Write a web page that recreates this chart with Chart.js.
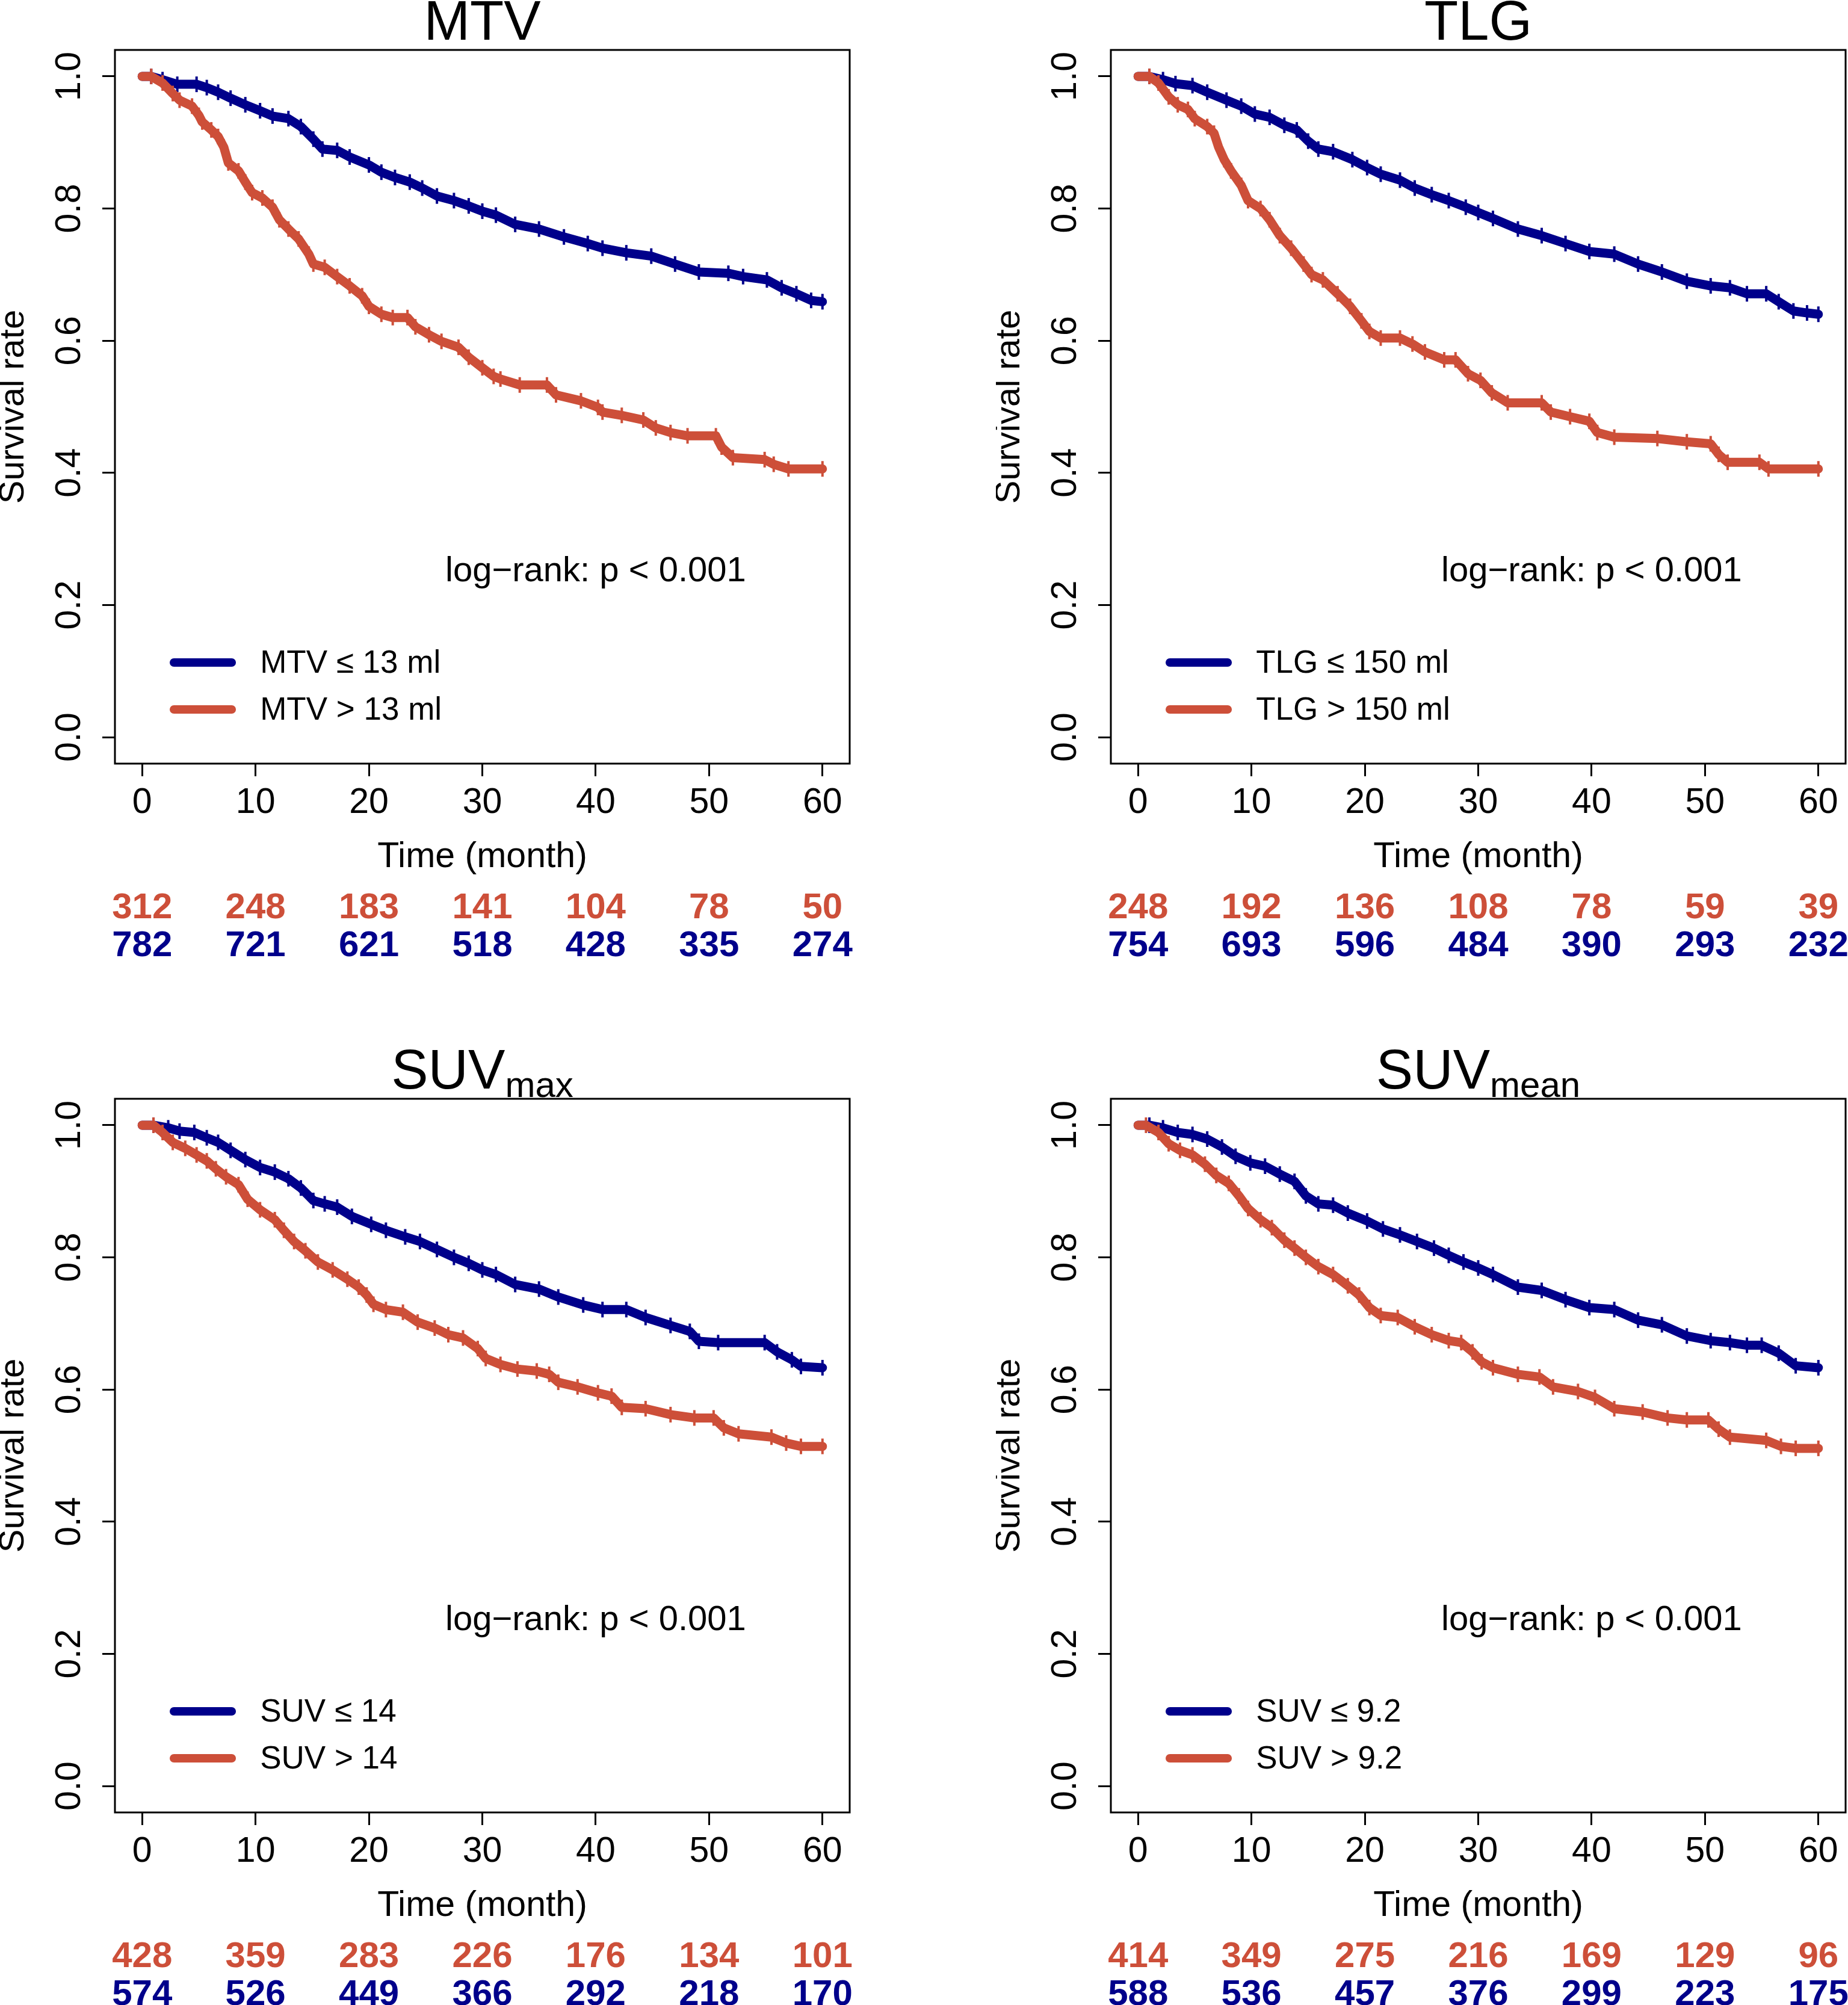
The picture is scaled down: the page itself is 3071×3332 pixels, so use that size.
<!DOCTYPE html>
<html>
<head>
<meta charset="utf-8">
<script src="https://cdn.jsdelivr.net/npm/chart.js@4.4.1/dist/chart.umd.min.js"></script>
<style>
  html, body { margin: 0; padding: 0; background: #fff; }
  body { width: 3071px; height: 3332px; position: relative; overflow: hidden; }
  canvas { position: absolute; }
</style>
</head>
<body>
<canvas id="c1" width="1429" height="1600" style="left:0px;top:0px"></canvas>
<canvas id="c2" width="1429" height="1600" style="left:1655px;top:0px"></canvas>
<canvas id="c3" width="1429" height="1600" style="left:0px;top:1743px"></canvas>
<canvas id="c4" width="1429" height="1600" style="left:1655px;top:1743px"></canvas>
<script>
// axes
const xTicks = [0, 10, 20, 30, 40, 50, 60];
const yTicks = [0, 0.2, 0.4, 0.6, 0.8, 1.0];

// MTV
const mtvLowT = [0, 0.8, 1.8, 3.1, 4.8, 5.7, 6.7, 7.8, 9.1, 10.4, 11.5, 12.9, 14.0, 15.1, 15.9, 17.2, 18.3, 20.0, 21.1, 22.3, 23.6, 24.7, 26.0, 27.5, 28.8, 30.0, 31.2, 32.9, 35.0, 37.2, 39.3, 40.6, 42.7, 44.9, 47.0, 49.1, 51.7, 53.0, 55.1, 56.4, 57.7, 59.0, 60.0];
const mtvLowS = [1.0, 1.0, 0.995, 0.988, 0.988, 0.983, 0.976, 0.967, 0.957, 0.948, 0.940, 0.936, 0.924, 0.905, 0.890, 0.888, 0.878, 0.866, 0.855, 0.847, 0.840, 0.831, 0.819, 0.812, 0.804, 0.796, 0.790, 0.776, 0.769, 0.757, 0.747, 0.740, 0.733, 0.728, 0.716, 0.704, 0.702, 0.697, 0.692, 0.680, 0.671, 0.661, 0.659];
const mtvHighT = [0, 0.8, 1.8, 2.7, 3.3, 4.4, 5.0, 5.3, 6.1, 6.7, 7.2, 7.6, 8.5, 9.1, 9.7, 10.6, 11.5, 12.1, 12.9, 13.8, 14.7, 15.1, 16.1, 17.2, 18.3, 19.4, 20.0, 21.1, 22.1, 23.4, 24.1, 25.3, 26.4, 27.9, 28.8, 30.0, 31.0, 31.6, 33.3, 35.7, 36.5, 38.7, 40.2, 40.6, 42.3, 44.2, 45.3, 46.6, 48.1, 50.6, 51.1, 52.1, 54.9, 55.7, 57.0, 60.0];
const mtvHighS = [1.0, 1.0, 0.990, 0.974, 0.964, 0.955, 0.941, 0.931, 0.919, 0.909, 0.893, 0.869, 0.857, 0.840, 0.824, 0.816, 0.802, 0.783, 0.769, 0.754, 0.731, 0.716, 0.711, 0.697, 0.683, 0.668, 0.652, 0.640, 0.635, 0.635, 0.621, 0.609, 0.599, 0.590, 0.575, 0.559, 0.546, 0.542, 0.533, 0.533, 0.518, 0.509, 0.499, 0.492, 0.487, 0.480, 0.468, 0.461, 0.456, 0.456, 0.439, 0.423, 0.420, 0.413, 0.406, 0.406];
const mtvRiskHigh = [312, 248, 183, 141, 104, 78, 50];
const mtvRiskLow = [782, 721, 621, 518, 428, 335, 274];

// TLG
const tlgLowT = [0, 1.0, 2.2, 3.3, 4.8, 6.1, 7.8, 9.1, 10.3, 11.6, 12.9, 14.0, 15.0, 15.9, 17.2, 18.9, 20.2, 21.4, 23.1, 24.4, 25.9, 27.4, 28.9, 30.0, 31.3, 33.5, 35.6, 37.7, 39.8, 42.0, 44.1, 46.2, 48.4, 50.5, 52.2, 53.7, 55.4, 56.5, 57.8, 59.0, 60.0];
const tlgLowS = [1.0, 1.0, 0.995, 0.989, 0.986, 0.976, 0.964, 0.955, 0.943, 0.938, 0.926, 0.919, 0.902, 0.890, 0.886, 0.874, 0.862, 0.852, 0.843, 0.831, 0.821, 0.812, 0.802, 0.794, 0.785, 0.769, 0.759, 0.747, 0.735, 0.731, 0.716, 0.704, 0.690, 0.683, 0.680, 0.671, 0.671, 0.659, 0.645, 0.642, 0.640];
const tlgHighT = [0, 1.0, 1.8, 2.7, 3.5, 4.4, 5.0, 6.1, 6.7, 7.1, 7.6, 8.2, 9.1, 9.7, 10.8, 11.6, 12.5, 13.5, 14.6, 15.3, 16.3, 17.6, 18.7, 19.7, 20.4, 21.4, 23.1, 24.2, 25.3, 27.0, 28.0, 29.1, 30.2, 31.2, 32.6, 35.6, 36.4, 38.1, 39.8, 40.5, 42.0, 45.8, 48.4, 50.5, 51.2, 52.0, 54.8, 55.6, 60.0];
const tlgHighS = [1.0, 1.0, 0.990, 0.969, 0.957, 0.950, 0.936, 0.924, 0.914, 0.893, 0.874, 0.857, 0.835, 0.812, 0.800, 0.783, 0.759, 0.740, 0.716, 0.700, 0.692, 0.671, 0.652, 0.630, 0.614, 0.604, 0.604, 0.595, 0.583, 0.571, 0.571, 0.550, 0.540, 0.521, 0.506, 0.506, 0.492, 0.485, 0.478, 0.461, 0.454, 0.452, 0.447, 0.444, 0.428, 0.416, 0.416, 0.406, 0.406];
const tlgRiskHigh = [248, 192, 136, 108, 78, 59, 39];
const tlgRiskLow = [754, 693, 596, 484, 390, 293, 232];

// SUVmax
const maxLowT = [0, 1.0, 2.3, 3.3, 4.6, 5.7, 6.7, 7.8, 9.1, 10.4, 11.7, 12.9, 14.0, 15.1, 16.1, 17.2, 18.5, 20.2, 21.5, 23.2, 24.5, 26.0, 27.5, 28.8, 30.0, 31.2, 32.9, 35.0, 36.7, 38.9, 40.6, 42.7, 44.4, 46.6, 48.3, 49.1, 50.8, 54.9, 56.0, 57.3, 58.1, 60.0];
const maxLowS = [1.0, 1.0, 0.996, 0.991, 0.989, 0.981, 0.974, 0.962, 0.948, 0.936, 0.929, 0.919, 0.905, 0.886, 0.881, 0.876, 0.862, 0.850, 0.841, 0.831, 0.824, 0.812, 0.800, 0.791, 0.781, 0.774, 0.759, 0.752, 0.740, 0.728, 0.721, 0.721, 0.709, 0.697, 0.688, 0.673, 0.671, 0.671, 0.657, 0.645, 0.635, 0.633];
const maxHighT = [0, 1.0, 1.8, 2.7, 3.8, 4.8, 5.7, 6.5, 7.4, 8.5, 9.3, 10.4, 11.7, 12.5, 13.4, 14.4, 15.5, 16.8, 18.1, 19.1, 19.8, 20.4, 21.5, 23.0, 24.3, 25.8, 27.0, 28.3, 29.6, 30.3, 31.6, 33.1, 34.8, 35.9, 36.7, 38.4, 40.2, 41.4, 42.3, 44.4, 46.6, 48.7, 50.4, 51.3, 52.6, 55.5, 56.8, 58.1, 60.0];
const maxHighS = [1.0, 1.0, 0.989, 0.974, 0.965, 0.955, 0.946, 0.934, 0.922, 0.910, 0.888, 0.872, 0.857, 0.841, 0.824, 0.810, 0.793, 0.781, 0.767, 0.755, 0.743, 0.729, 0.721, 0.717, 0.702, 0.693, 0.683, 0.678, 0.662, 0.647, 0.638, 0.631, 0.628, 0.623, 0.611, 0.604, 0.595, 0.590, 0.573, 0.571, 0.562, 0.557, 0.557, 0.542, 0.533, 0.528, 0.519, 0.514, 0.514];
const maxRiskHigh = [428, 359, 283, 226, 176, 134, 101];
const maxRiskLow = [574, 526, 449, 366, 292, 218, 170];

// SUVmean
const meanLowT = [0, 1.0, 2.2, 3.5, 4.8, 6.1, 7.4, 8.6, 9.9, 11.2, 12.5, 13.8, 14.8, 15.9, 17.2, 18.5, 20.2, 21.6, 23.1, 24.6, 26.1, 27.4, 28.7, 30.0, 31.3, 33.5, 35.6, 37.7, 39.8, 42.0, 44.1, 46.2, 48.4, 50.5, 52.2, 53.7, 55.0, 56.5, 58.0, 60.0];
const meanLowS = [1.0, 1.0, 0.996, 0.989, 0.986, 0.979, 0.967, 0.953, 0.943, 0.938, 0.926, 0.915, 0.893, 0.881, 0.879, 0.867, 0.855, 0.843, 0.834, 0.824, 0.814, 0.803, 0.793, 0.784, 0.774, 0.755, 0.750, 0.736, 0.724, 0.721, 0.705, 0.698, 0.681, 0.674, 0.671, 0.667, 0.667, 0.655, 0.636, 0.633];
const meanHighT = [0, 0.7, 1.8, 2.7, 3.7, 4.8, 5.9, 6.9, 8.0, 8.9, 9.7, 10.8, 11.8, 12.9, 13.8, 14.8, 15.9, 17.2, 18.5, 19.5, 20.4, 21.4, 22.9, 24.4, 25.9, 27.4, 28.5, 29.5, 30.3, 31.3, 33.5, 35.4, 36.6, 38.8, 40.3, 42.0, 44.5, 46.7, 48.4, 50.3, 51.2, 52.2, 55.4, 56.7, 58.0, 60.0];
const meanHighS = [1.0, 1.0, 0.989, 0.972, 0.962, 0.955, 0.941, 0.924, 0.912, 0.893, 0.874, 0.857, 0.845, 0.826, 0.814, 0.800, 0.786, 0.774, 0.757, 0.743, 0.724, 0.712, 0.709, 0.695, 0.683, 0.674, 0.671, 0.657, 0.642, 0.633, 0.623, 0.619, 0.604, 0.597, 0.588, 0.571, 0.566, 0.557, 0.554, 0.554, 0.540, 0.528, 0.523, 0.514, 0.511, 0.511];
const meanRiskHigh = [414, 349, 275, 216, 169, 129, 96];
const meanRiskLow = [588, 536, 457, 376, 299, 223, 175];

const FONT = "'Liberation Sans', Arial, Helvetica, sans-serif";
const BLUE = '#00008B';
const RED = '#CD4F39';
const pText = 'log\u2212rank: p < 0.001';

Chart.defaults.font.family = FONT;
Chart.defaults.color = '#000';

const panels = [
  { id: 'c1', title: 'MTV', sub: '', lowT: mtvLowT, lowS: mtvLowS, highT: mtvHighT, highS: mtvHighS,
    labels: ['MTV \u2264 13 ml', 'MTV > 13 ml'], riskHigh: mtvRiskHigh, riskLow: mtvRiskLow },
  { id: 'c2', title: 'TLG', sub: '', lowT: tlgLowT, lowS: tlgLowS, highT: tlgHighT, highS: tlgHighS,
    labels: ['TLG \u2264 150 ml', 'TLG > 150 ml'], riskHigh: tlgRiskHigh, riskLow: tlgRiskLow },
  { id: 'c3', title: 'SUV', sub: 'max', lowT: maxLowT, lowS: maxLowS, highT: maxHighT, highS: maxHighS,
    labels: ['SUV \u2264 14', 'SUV > 14'], riskHigh: maxRiskHigh, riskLow: maxRiskLow },
  { id: 'c4', title: 'SUV', sub: 'mean', lowT: meanLowT, lowS: meanLowS, highT: meanHighT, highS: meanHighS,
    labels: ['SUV \u2264 9.2', 'SUV > 9.2'], riskHigh: meanRiskHigh, riskLow: meanRiskLow }
];

// box, title, p-value, legend and numbers at risk
const kmExtras = {
  id: 'kmExtras',
  afterDraw(chart, args, o) {
    const { ctx, chartArea: a } = chart;
    const x = chart.scales.x, y = chart.scales.y;
    ctx.save();
    ctx.strokeStyle = '#000';
    ctx.lineWidth = 3;
    ctx.strokeRect(a.left, a.top, a.right - a.left, a.bottom - a.top);

    const cx = (a.left + a.right) / 2;
    ctx.fillStyle = '#000';
    ctx.textBaseline = 'alphabetic';
    ctx.font = `92px ${FONT}`;
    const w1 = ctx.measureText(o.title).width;
    ctx.font = `60px ${FONT}`;
    const w2 = o.sub ? ctx.measureText(o.sub).width : 0;
    const sx = cx - (w1 + w2) / 2;
    ctx.textAlign = 'left';
    ctx.font = `92px ${FONT}`;
    ctx.fillText(o.title, sx, 66);
    if (o.sub) {
      ctx.font = `60px ${FONT}`;
      ctx.fillText(o.sub, sx + w1, 80);
    }

    ctx.font = `58px ${FONT}`;
    ctx.textAlign = 'center';
    ctx.fillText(pText, x.getPixelForValue(40), y.getPixelForValue(0.236));

    const rows = [0.113, 0.042];
    chart.data.datasets.forEach((ds, i) => {
      const yy = y.getPixelForValue(rows[i]);
      ctx.strokeStyle = ds.borderColor;
      ctx.lineWidth = 14;
      ctx.lineCap = 'round';
      ctx.beginPath();
      ctx.moveTo(x.getPixelForValue(2.8), yy);
      ctx.lineTo(x.getPixelForValue(7.9), yy);
      ctx.stroke();
      ctx.fillStyle = '#000';
      ctx.font = `53px ${FONT}`;
      ctx.textAlign = 'left';
      ctx.fillText(ds.label, x.getPixelForValue(10.4), yy + 17);
    });

    ctx.font = `bold 60px ${FONT}`;
    ctx.textAlign = 'center';
    [[o.riskHigh, RED, 1526], [o.riskLow, BLUE, 1589]].forEach(([vals, col, by]) => {
      ctx.fillStyle = col;
      vals.forEach((n, k) => ctx.fillText(String(n), x.getPixelForValue(xTicks[k]), by));
    });
    ctx.restore();
  }
};

const curve = (ts, ss) => ts.map((t, i) => ({ x: t, y: ss[i] }));

for (const p of panels) {
  const tickFont = { size: 59, lineHeight: 1.2 };
  new Chart(document.getElementById(p.id), {
    type: 'line',
    data: {
      datasets: [
        { label: p.labels[0], data: curve(p.lowT, p.lowS), borderColor: BLUE, order: 1 },
        { label: p.labels[1], data: curve(p.highT, p.highS), borderColor: RED, order: 0 }
      ].map(d => Object.assign(d, {
        borderWidth: 15,
        borderCapStyle: 'round',
        borderJoinStyle: 'round',
        tension: 0,
        fill: false,
        pointStyle: 'line',
        pointRotation: 90,
        pointRadius: c => (c.dataIndex === 0 ? 0 : 13),
        pointBorderWidth: 4,
        pointBorderColor: d.borderColor,
        pointBackgroundColor: d.borderColor
      }))
    },
    options: {
      responsive: false,
      animation: false,
      devicePixelRatio: 1,
      events: [],
      layout: { padding: { top: 83, right: 0, bottom: 140, left: 0 } },
      plugins: {
        legend: { display: false },
        tooltip: { enabled: false },
        kmExtras: { title: p.title, sub: p.sub, riskHigh: p.riskHigh, riskLow: p.riskLow }
      },
      scales: {
        x: {
          type: 'linear',
          min: -2.4,
          max: 62.4,
          afterBuildTicks: s => { s.ticks = xTicks.map(v => ({ value: v })); },
          afterFit: s => { s.height = 191; s.paddingLeft = 0; s.paddingRight = 0; },
          ticks: { font: tickFont, color: '#000', padding: 9, maxRotation: 0, minRotation: 0, autoSkip: false,
                   callback: v => String(v) },
          grid: { drawOnChartArea: false, drawTicks: true, tickLength: 21, tickWidth: 3, tickColor: '#000' },
          border: { display: false },
          title: { display: true, text: 'Time (month)', font: { size: 59, lineHeight: 1.2 }, padding: 0, color: '#000' }
        },
        y: {
          type: 'linear',
          min: -0.04,
          max: 1.04,
          afterBuildTicks: s => { s.ticks = yTicks.map(v => ({ value: v })); },
          afterFit: s => { s.width = 191; s.paddingTop = 0; s.paddingBottom = 0; },
          ticks: { font: tickFont, color: '#000', padding: 12, minRotation: 90, maxRotation: 90, crossAlign: 'center',
                   autoSkip: false, callback: v => v.toFixed(1) },
          grid: { drawOnChartArea: false, drawTicks: true, tickLength: 21, tickWidth: 3, tickColor: '#000' },
          border: { display: false },
          title: { display: true, text: 'Survival rate', font: { size: 58, lineHeight: 0.8 }, padding: 0, color: '#000' }
        }
      }
    },
    plugins: [kmExtras]
  });
}
</script>
</body>
</html>
